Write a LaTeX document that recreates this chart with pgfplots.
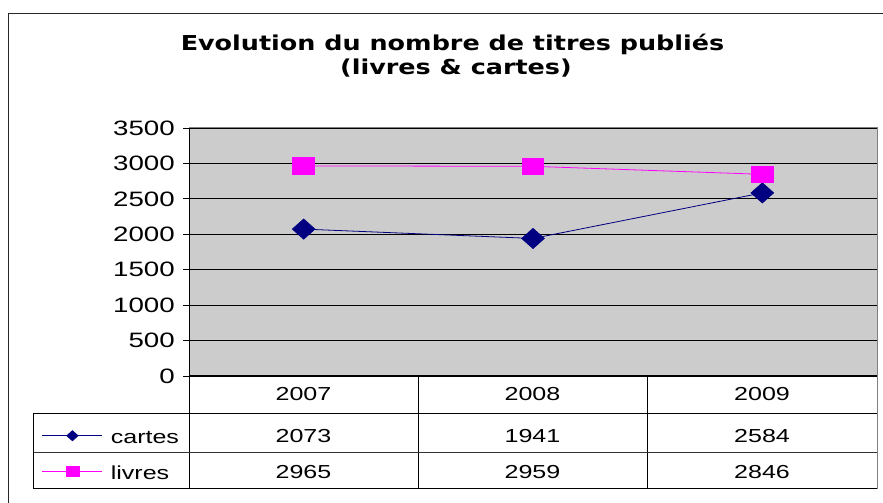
\documentclass[border=0pt]{standalone}
\usepackage{fontspec}
\setmainfont{Liberation Sans}
\newfontfamily\xl[FakeStretch=1.33]{Liberation Sans}
\newfontfamily\ttl[FakeStretch=1.24]{DejaVu Sans}
\usepackage{pgfplots}
\pgfplotsset{compat=1.18}
\definecolor{navy}{HTML}{000080}
\definecolor{mag}{HTML}{FF00FF}
\definecolor{plotbg}{HTML}{CCCCCC}
\definecolor{frame}{HTML}{808080}
\begin{document}
\begin{tikzpicture}
\begin{scope}[x=1bp,y=1bp]
\path[use as bounding box] (0,0) rectangle (883,503);
% outer chart frame
\draw[line width=1bp, black!85] (8.5,-5) -- (8.5,489.5) -- (890,489.5);
% title
\node[font=\ttl\bfseries\fontsize{20.6}{24}\selectfont, anchor=base, inner sep=0pt] at (452.5,452.3) {Evolution du nombre de titres publiés};
\node[font=\ttl\bfseries\fontsize{20.6}{24}\selectfont, anchor=base, inner sep=0pt] at (456,428) {(livres \& cartes)};
\end{scope}
\begin{axis}[
  at={(189bp,127bp)}, anchor=south west,
  scale only axis, width=688bp, height=248bp,
  xmin=0, xmax=3, ymin=0, ymax=3500,
  xtick=\empty,
  ytick={0,500,...,3500},
  ytick pos=left,
  tick align=outside,
  major tick length=6bp,
  tick style={black, line width=0.8bp},
  ymajorgrids,
  grid style={black, line width=0.8bp},
  axis line style={draw=none},
  axis background/.style={fill=plotbg},
  clip=false,
  /pgf/number format/assume math mode=true,
  /pgf/number format/1000 sep={},
  yticklabel style={font=\xl\fontsize{20.9}{24}\selectfont, inner sep=0pt, xshift=-8bp},
  legend style={at={(axis description cs:-0.21366,-0.2177)}, anchor=north west,
    draw=none, fill=none, inner sep=0pt, outer sep=0pt,
    font=\xl\fontsize{18.9}{22}\selectfont,
    nodes={inner sep=0pt, text height=13.5bp, text depth=0bp},
    row sep=22.5bp, column sep=8bp},
  legend cell align=left,
  legend image code/.code={\draw[mark repeat=2,mark phase=2, mark size=5bp, yshift=1bp] plot coordinates {(0bp,0bp)(30bp,0bp)(60bp,0bp)};},
]
\addplot[navy, line width=0.8bp, mark=diamond*, mark size=10bp, mark options={xscale=1.5, solid, fill=navy}]
  coordinates {(0.5,2073) (1.5,1941) (2.5,2584)};
\addlegendentry{cartes}
\addplot[mag, line width=0.8bp, mark=square*, mark size=8.3bp, mark options={xscale=1.3, solid, fill=mag}]
  coordinates {(0.5,2965) (1.5,2959) (2.5,2846)};
\addlegendentry{livres}
\end{axis}
\begin{scope}[x=1bp,y=1bp]
% plot area frame
\draw[line width=1bp, frame] (189,375) -- (877,375) -- (877,127);
\draw[line width=1bp, black] (189,375) -- (189,127) -- (877,127);
% data table
\draw[line width=1bp, black] (189,127) -- (189,14);
\draw[line width=1bp, black] (418,127) -- (418,14);
\draw[line width=1bp, black] (647,127) -- (647,14);
\draw[line width=1bp, frame] (877,127) -- (877,14);
\draw[line width=1bp, black] (33,89) -- (877,89);
\draw[line width=1bp, black!80] (33,50) -- (877,50);
\draw[line width=1bp, black] (33,14) -- (877,14);
\draw[line width=1bp, black] (33,89) -- (33,14);
\begin{scope}[every node/.style={font=\xl\fontsize{18.9}{22}\selectfont, anchor=base, inner sep=0pt}]
\node at (303.5,102.3) {2007};
\node at (532.5,102.3) {2008};
\node at (762,102.3) {2009};
\node at (303.5,60) {2073};
\node at (532.5,60) {1941};
\node at (762,60) {2584};
\node at (303.5,24) {2965};
\node at (532.5,24) {2959};
\node at (762,24) {2846};
\end{scope}
\end{scope}
\end{tikzpicture}
\end{document}
